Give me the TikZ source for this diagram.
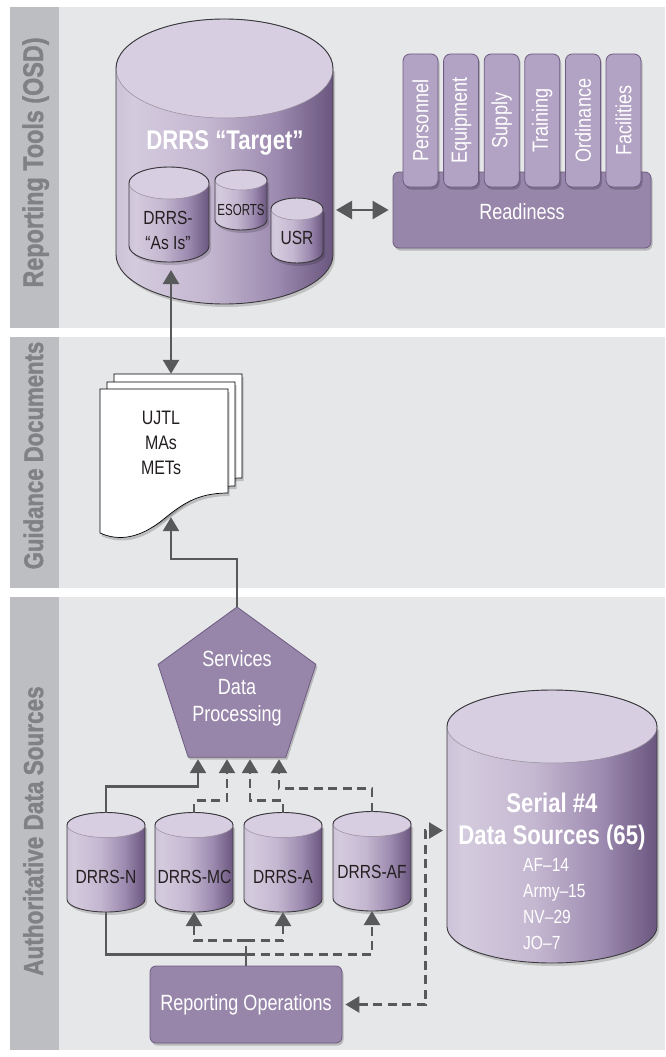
\documentclass[tikz,border=0pt]{standalone}
\usepackage{fontspec}
\setmainfont{Liberation Sans}
\newfontfamily\cnd[FakeStretch=0.82]{Liberation Sans}
\newfontfamily\cndx[FakeStretch=0.72]{Liberation Sans}
\newfontfamily\lblf[FakeStretch=0.82,FakeBold=1.2,UprightFont={* Bold}]{Liberation Sans}
\usetikzlibrary{arrows.meta,shapes.geometric,calc}

\definecolor{panelbg}{HTML}{E6E7E8}
\definecolor{stripc}{HTML}{BDBEC1}
\definecolor{striptxt}{HTML}{808184}
\definecolor{cylA}{HTML}{CDC3D8}
\definecolor{cylB}{HTML}{D4CBDE}
\definecolor{cylC}{HTML}{C4B7D0}
\definecolor{cylD}{HTML}{9D8AB0}
\definecolor{cylE}{HTML}{6A567E}
\definecolor{cyltop}{HTML}{D7CFE1}
\definecolor{cyledge}{HTML}{3A383D}
\definecolor{divider}{HTML}{948E9B}
\definecolor{tabfill}{HTML}{B2A2C3}
\definecolor{boxfill}{HTML}{9786AA}
\definecolor{boxedge}{HTML}{6E5C82}
\definecolor{arrowgray}{HTML}{58595B}
\definecolor{inktxt}{HTML}{231F20}

\pgfdeclarehorizontalshading{cylsh}{100bp}{color(0bp)=(cylA); color(25bp)=(cylA); color(29bp)=(cylB); color(46bp)=(cylC); color(62bp)=(cylD); color(75bp)=(cylE); color(100bp)=(cylE)}

% name, cx, ytop, ybot, rx, ry  (pixel units, y downward)
\newcommand\cyl[6]{%
  \fill[black,opacity=0.16] (#2-#5+2,-#3-3) -- (#2-#5+2,-#4-3) arc[start angle=180,end angle=360,x radius=#5,y radius=#6] -- (#2+#5+2,-#3-3) -- cycle;
  \path[shading=cylsh] (#2-#5,-#3) -- (#2-#5,-#4) arc[start angle=180,end angle=360,x radius=#5,y radius=#6] -- (#2+#5,-#3) arc[start angle=0,end angle=180,x radius=#5,y radius=#6] -- cycle;
  \draw[fill=cyltop,draw=divider,line width=0.5pt] (#2,-#3) ellipse[x radius=#5,y radius=#6];
  \draw[cyledge,line width=0.9pt] (#2-#5,-#3) -- (#2-#5,-#4) arc[start angle=180,end angle=360,x radius=#5,y radius=#6] -- (#2+#5,-#3) arc[start angle=0,end angle=180,x radius=#5,y radius=#6] -- cycle;
  \node[inner sep=0,outer sep=0,minimum width={2*#5*1pt},minimum height={(#4-#3+2*#6)*1pt}] (#1) at (#2,{-(#3+#4)/2}) {};
}

\newcommand\docpage[2]{%
  \fill[black,opacity=0.18,shift={(#1+1.5,#2-3)}] (100,-389) -- (228,-389) -- (228,-493) .. controls (195,-493) and (180,-506) .. (160,-522) .. controls (140,-537) and (120,-542) .. (100,-533) -- cycle;
  \filldraw[fill=white,draw=black,line width=0.7pt,shift={(#1,#2)}] (100,-389) -- (228,-389) -- (228,-493) .. controls (195,-493) and (180,-506) .. (160,-522) .. controls (140,-537) and (120,-542) .. (100,-533) -- cycle;
}

\tikzset{
  conn/.style={draw=arrowgray,line width=2.5pt},
  dconn/.style={conn,dash pattern=on 9pt off 5.5pt},
  >={Triangle[length=14pt,width=16pt]},
  shadowed/.style={preaction={fill=black,opacity=0.2,transform canvas={xshift=1.5pt,yshift=-2.5pt}}},
  purplebox/.style={fill=boxfill,draw=boxedge,line width=0.8pt,rounded corners=6pt,inner sep=0,shadowed},
  tabbox/.style={fill=tabfill,draw=boxedge,line width=0.8pt,rounded corners=7pt,inner sep=0,shadowed},
  striplabel/.style={rotate=90,text=striptxt,inner sep=0,text height=19.5pt,text depth=0pt},
  wtxt/.style={text=white,inner sep=0,font=\cnd\fontsize{22}{27.5}\selectfont,align=center},
  btxt/.style={text=inktxt,inner sep=0,font=\cnd\fontsize{19}{25}\selectfont,align=center},
}

\begin{document}
\begin{tikzpicture}[x=1pt,y=1pt]
\useasboundingbox (0,0) rectangle (665,-1057);
\fill[white] (0,0) rectangle (665,-1057);

% panels
\fill[panelbg] (10,-7) rectangle (665,-328);
\fill[stripc] (10,-7) rectangle (59,-328);
\fill[panelbg] (10,-337) rectangle (665,-588);
\fill[stripc] (10,-337) rectangle (59,-588);
\fill[panelbg] (10,-597) rectangle (665,-1050);
\fill[stripc] (10,-597) rectangle (59,-1050);
\node[striplabel,font=\lblf\fontsize{28.5}{28.5}\selectfont] (lab1) at (33.3,-162.5) {Reporting Tools (OSD)};
\node[striplabel,font=\lblf\fontsize{27}{27}\selectfont] (lab2) at (33.3,-455.5) {Guidance Documents};
\node[striplabel,font=\lblf\fontsize{27.5}{27.5}\selectfont] (lab3) at (33.3,-831) {Authoritative Data Sources};

% ---------- top panel ----------
\cyl{target}{224.5}{68.5}{254.5}{108.5}{49.5}
\node[text=white,inner sep=0,font=\cnd\bfseries\fontsize{27}{27}\selectfont] (targettxt) at (225,-143) {DRRS “Target”};
\cyl{asis}{169}{183}{246}{40}{16}
\node[btxt] (asistxt) at (168,-230.5) {DRRS-\\“As Is”};
\cyl{esorts}{241}{180}{220}{26}{10}
\node[btxt,font=\cndx\fontsize{16}{16}\selectfont] (esortstxt) at (241,-210) {ESORTS};
\cyl{usr}{297}{209}{252}{26}{11}
\node[btxt] (usrtxt) at (297,-238) {USR};

\node[purplebox,minimum width=258pt,minimum height=76pt] (readiness) at (522,-210) {};
\node[wtxt] (readtxt) at (522,-212) {Readiness};
\foreach \t [count=\i from 0] in {Personnel,Equipment,Supply,Training,Ordinance,Facilities} {
  \node[tabbox,minimum width=35pt,minimum height=133pt] (tab\i) at ({420.5+40.6*\i},-120.5) {};
  \node[wtxt,rotate=90] (tabtxt\i) at (tab\i) {\t};
}

\draw[conn,<->,>={Triangle[length=16pt,width=18pt]}] ($(target.east |- readiness.west)+(3,0)$) -- ($(readiness.west)+(-4,0)$);

% ---------- middle panel ----------
\docpage{14}{15}
\docpage{7}{7}
\docpage{0}{0}
\node[inner sep=0,minimum width=141pt,minimum height=164pt] (docs) at (170.5,-456) {};
\node[btxt,font=\cnd\fontsize{19.5}{25}\selectfont] (doctxt) at (161,-443) {UJTL\\MAs\\METs};

\draw[conn,<->] ($(asis.south)+(2,-8)$) -- ($(docs.north)+(0.5,0)$);

% ---------- bottom panel ----------
\node[regular polygon,regular polygon sides=5,minimum size=166pt,inner sep=0,outer sep=0,fill=boxfill,draw=boxedge,line width=0.8pt,shadowed] (sdp) at (237,-690) {};
\node[wtxt] (sdptxt) at (237,-688.5) {Services\\Data\\Processing};

\draw[conn,->] (sdp.north) -- ++(0,48) -| ($(docs.south)+(0.5,21)$);

\cyl{drrsN}{106}{825}{899.5}{39}{12.5}
\cyl{drrsMC}{194}{825}{899.5}{39}{12.5}
\cyl{drrsA}{283}{825}{899.5}{39}{12.5}
\cyl{drrsAF}{372}{824}{898.5}{39}{12.5}
\node[btxt] (ntxt) at (106,-877) {DRRS-N};
\node[btxt] (mctxt) at (194.5,-877) {DRRS-MC};
\node[btxt] (atxt) at (283,-877) {DRRS-A};
\node[btxt] (aftxt) at (372,-872) {DRRS-AF};

\cyl{serial}{552}{726.5}{926.5}{105}{36.5}
\node[text=white,inner sep=0,align=center,font=\cnd\bfseries\fontsize{27}{32}\selectfont] (sertitle) at (552,-822) {Serial \#4\\Data Sources (65)};
\node[text=white,inner sep=0,anchor=west,align=left,font=\cnd\fontsize{19}{26}\selectfont] (serlist) at (523,-904) {AF–14\\Army–15\\NV–29\\JO–7};

\node[purplebox,minimum width=192pt,minimum height=77pt] (ops) at (246,-1004.5) {};
\node[wtxt] (opstxt) at (246,-1004.5) {Reporting Operations};

% connectors to Services Data Processing
\draw[conn,->] (drrsN.north) -- ++(0,26) -| ($(sdp.south)+(-39,-2)$);
\draw[dconn,->] (drrsMC.north) -- ++(0,12) -| ($(sdp.south)+(-10,-2)$);
\draw[dconn,->] (drrsA.north) -- ++(0,12) -| ($(sdp.south)+(13,-2)$);
\draw[dconn,->] (drrsAF.north) -- ++(0,23) -| ($(sdp.south)+(42,-2)$);

% connectors from Reporting Operations
\coordinate (j1) at ($(ops.north)+(0,11)$);
\coordinate (j2) at ($(ops.north)+(0,25)$);
\draw[conn] (drrsN.south) |- (j1) -- (ops.north);
\draw[dconn] (j1) -- (j2);
\draw[dconn,->] (j2) -| (drrsMC.south);
\draw[dconn,->] (j2) -| (drrsA.south);
\draw[dconn,->] (j1) -| (drrsAF.south);
\draw[dconn,<->] ($(ops.east)+(3,0)$) -- ++(80,0) |- ($(serial.west)+(-4,-4)$);
\end{tikzpicture}
\end{document}
